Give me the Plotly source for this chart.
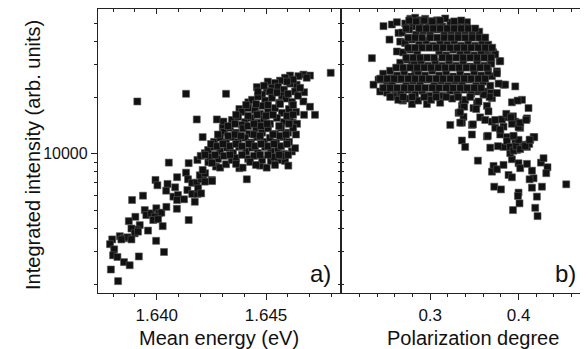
import plotly.graph_objects as go

# ---------------- data ----------------
energy_eV = [
    1.64055, 1.64146, 1.64186, 1.64201, 1.64220, 1.63994, 1.64003, 1.64049, 1.64093, 1.64134,
    1.64143, 1.64162, 1.64183, 1.64204, 1.64213, 1.64197, 1.64043, 1.64084, 1.64076, 1.64097,
    1.64093, 1.64125, 1.64140, 1.64162, 1.64186, 1.64189, 1.64174, 1.63937, 1.63887, 1.64092,
    1.64146, 1.63945, 1.63952, 1.63975, 1.63998, 1.64009, 1.64021, 1.63991, 1.63984, 1.64006,
    1.64044, 1.63902, 1.63872, 1.64027, 1.63922, 1.63907, 1.63884, 1.63899, 1.63914, 1.63960,
    1.63831, 1.63850, 1.63866, 1.63884, 1.63838, 1.63796, 1.63786, 1.63997, 1.64033, 1.63918,
    1.63805, 1.63800, 1.63820, 1.63850, 1.63876, 1.63790, 1.63823, 1.63911, 1.64134, 1.64317,
    1.64183, 1.64275, 1.64305, 1.64210, 1.64796, 1.64412, 1.64252, 1.64221, 1.64236, 1.64210,
    1.64220, 1.64253, 1.64271, 1.64290, 1.64317, 1.64343, 1.64378, 1.64393, 1.64473, 1.64503,
    1.64522, 1.64556, 1.64587, 1.64602, 1.64203, 1.64618, 1.64633, 1.64458, 1.64508, 1.64671,
    1.64701, 1.64674, 1.64671, 1.64701, 1.64724, 1.64674, 1.64622, 1.64637, 1.64419, 1.64378,
    1.64302, 1.64648, 1.64610, 1.64587, 1.64564, 1.64541, 1.64526, 1.64503, 1.64640, 1.64686,
    1.64482, 1.64518, 1.64555, 1.64582, 1.64610, 1.64633, 1.64573,
    1.64436, 1.64463, 1.64496, 1.64527, 1.64560, 1.64592, 1.64619, 1.64646,
    1.64390, 1.64418, 1.64450, 1.64482, 1.64509, 1.64541, 1.64573, 1.64605, 1.64637, 1.64473,
    1.64344, 1.64372, 1.64404, 1.64431, 1.64463, 1.64491, 1.64518, 1.64550, 1.64582, 1.64610, 1.64642, 1.64390,
    1.64308, 1.64335, 1.64363, 1.64395, 1.64422, 1.64454, 1.64482, 1.64509, 1.64541, 1.64569, 1.64601, 1.64624,
    1.64262, 1.64290, 1.64317, 1.64344, 1.64372, 1.64404, 1.64431, 1.64459, 1.64491, 1.64518, 1.64546, 1.64578, 1.64605,
    1.64235, 1.64262, 1.64290, 1.64322, 1.64349, 1.64377, 1.64409, 1.64436, 1.64463, 1.64496, 1.64523, 1.64555, 1.64582,
    1.64244, 1.64280, 1.64308, 1.64363, 1.64418, 1.64445, 1.64482, 1.64537, 1.64573,
    1.64409, 1.64454, 1.64509, 1.64564, 1.64624,
    1.64363, 1.64418, 1.64459, 1.64500, 1.64532, 1.64596, 1.64624,
    1.64326, 1.64358, 1.64418, 1.64445, 1.64477, 1.64505, 1.64560, 1.64605,
    1.64280, 1.64326, 1.64358, 1.64386, 1.64445, 1.64473, 1.64532, 1.64564, 1.64592,
    1.64248, 1.64276, 1.64303, 1.64335, 1.64363, 1.64390, 1.64422, 1.64450, 1.64477, 1.64509, 1.64537, 1.64569, 1.64596,
    1.64221, 1.64267, 1.64335, 1.64390, 1.64473, 1.64509, 1.64560, 1.64601,
    1.64253, 1.64363, 1.64427, 1.64454, 1.64541,
    1.64463, 1.64491, 1.64550, 1.64601, 1.64624, 1.64656, 1.64596,
]
intensity_a = [
    8980, 8920, 9280, 9760, 10090, 7250, 6790, 6900, 7500, 7930,
    7310, 7000, 7000, 7310, 7710, 7680, 6350, 6620, 5900, 6020,
    5660, 5710, 6400, 6100, 6100, 6540, 5540, 5970, 5660, 5080,
    4420, 5000, 4700, 4800, 5110, 4800, 4840, 4600, 4420, 4460,
    5200, 4600, 4360, 4100, 4150, 3930, 3980, 3750, 3830, 3880,
    3620, 3530, 3570, 3480, 3480, 3480, 3280, 3420, 2980, 2820,
    3080, 2860, 2800, 2630, 2530, 2400, 2080, 19100, 21000, 21000,
    15300, 15300, 14900, 12300, 27200, 7310, 7250, 7880, 9030, 8200,
    7100, 7150, 8550, 8440, 8800, 9280, 8380, 8440, 8650, 8440,
    9170, 9280, 9170, 8650, 6140, 10300, 10730, 22800, 24400, 26600,
    26300, 21400, 19100, 17900, 16200, 16200, 14700, 12700, 18900, 17400,
    13800, 26100, 26300, 25600, 24700, 24000, 22600, 21700, 23500, 25600,
    20800, 21600, 22900, 22100, 23800, 21600, 20500,
    19500, 20300, 19300, 20000, 18800, 19800, 19000, 20500,
    16800, 17600, 17200, 18100, 16800, 17600, 16600, 17400, 16800, 16400,
    15200, 15800, 14800, 15600, 14700, 15400, 14500, 15600, 14800, 15800, 14500, 14300,
    13100, 13800, 13000, 13700, 12800, 13800, 13000, 13700, 12800, 13800, 13000, 13800,
    11600, 12200, 11500, 12300, 11600, 12200, 11500, 12300, 11600, 12200, 11500, 12300, 11600,
    10500, 10900, 10300, 10800, 10100, 10900, 10300, 10800, 10100, 10900, 10300, 10600, 10000,
    9640, 9400, 9760, 9520, 9400, 9760, 9280, 9640, 9760,
    18300, 18500, 18300, 18500, 18300,
    16200, 16000, 16200, 16000, 16200, 16000, 16200,
    14100, 14500, 14100, 14500, 14100, 14500, 14100, 14500,
    12700, 12500, 12700, 12500, 12700, 12500, 12700, 12500, 12700,
    11300, 11000, 11300, 11000, 11300, 11000, 11300, 11000, 11300, 11000, 11300, 11000, 11300,
    9880, 9880, 9880, 9880, 9880, 9880, 9880, 9880,
    8950, 8840, 9060, 8730, 8730,
    21600, 23200, 21300, 21000, 25000, 22600, 24400,
]

polarization = [
    0.2471, 0.2566, 0.2623, 0.2539, 0.2641, 0.2623, 0.2340, 0.2774, 0.2830, 0.2887,
    0.2943, 0.3000, 0.3076, 0.3416, 0.2415, 0.2358, 0.2434, 0.2510, 0.2566, 0.2604,
    0.2691, 0.2793, 0.2963, 0.3612, 0.3642, 0.3710, 0.3785, 0.3755, 0.3699, 0.3830,
    0.3963, 0.3925, 0.4039, 0.4113, 0.4095, 0.4019, 0.3925, 0.3227, 0.3359, 0.3321,
    0.3377, 0.3359, 0.3472, 0.3490, 0.3529, 0.3642, 0.3699, 0.3642, 0.3604, 0.3529,
    0.3359, 0.3396, 0.3472, 0.3642, 0.3736, 0.3830, 0.3793, 0.3869, 0.3943, 0.3963,
    0.3830, 0.3982, 0.4057, 0.4133, 0.4170, 0.4095, 0.3812, 0.3887, 0.3937, 0.3963,
    0.3540, 0.3680, 0.3767, 0.3717, 0.3699, 0.3755, 0.3830, 0.3925, 0.3887, 0.3925,
    0.4000, 0.4019, 0.4095, 0.4152, 0.4170, 0.4125, 0.4254, 0.4283, 0.4328, 0.4314,
    0.4265, 0.4152, 0.4208, 0.4540, 0.3725, 0.3801, 0.4000, 0.3993, 0.4011, 0.3937,
    0.4189, 0.4215, 0.3906, 0.3982, 0.4121, 0.3793, 0.3869, 0.3906, 0.3943, 0.3974,
    0.4000, 0.4019, 0.4076, 0.4178, 0.4125, 0.3925, 0.4000, 0.3943, 0.3653, 0.3484,
    0.3340, 0.3849, 0.3774, 0.3755, 0.3793, 0.3717, 0.3680, 0.3989, 0.3623, 0.3687,
    0.3755, 0.3672, 0.3604, 0.3547, 0.3521, 0.3660, 0.3370, 0.3385, 0.3340, 0.3566,
    0.3623, 0.3699, 0.3736, 0.3861, 0.3914, 0.4019, 0.4087, 0.2660, 0.2717, 0.2566,
    0.2584, 0.2680, 0.2793, 0.2830, 0.2868,
    0.2717, 0.2796, 0.2887, 0.2977, 0.3057, 0.3136, 0.3227, 0.3317, 0.3396, 0.3170,
    0.2683, 0.2762, 0.2841, 0.2921, 0.3000, 0.3079, 0.3159, 0.3238, 0.3317, 0.3396, 0.3476, 0.3555,
    0.2717, 0.2796, 0.2875, 0.2955, 0.3034, 0.3113, 0.3193, 0.3272, 0.3351, 0.3430, 0.3510, 0.3589, 0.3657,
    0.2694, 0.2774, 0.2853, 0.3102, 0.3181, 0.3260, 0.3340, 0.3419, 0.3498, 0.3578, 0.3657, 0.3736,
    0.2660, 0.2740, 0.2819, 0.2898, 0.2977, 0.3057, 0.3136, 0.3215, 0.3294, 0.3374, 0.3453, 0.3532, 0.3612, 0.3691,
    0.2468, 0.2547, 0.2626, 0.2706, 0.2785, 0.2864, 0.2943, 0.3023, 0.3102, 0.3181, 0.3260, 0.3340, 0.3419, 0.3498, 0.3578, 0.3657,
    0.2479, 0.2570, 0.2649, 0.2728, 0.2807, 0.2887, 0.2966, 0.3045, 0.3125, 0.3204, 0.3283, 0.3362, 0.3442, 0.3521, 0.3600, 0.3680,
    0.2513, 0.2592, 0.2672, 0.2751, 0.2830, 0.2909, 0.2989, 0.3068, 0.3147, 0.3227, 0.3306, 0.3385, 0.3464, 0.3544,
    0.2638, 0.2728, 0.2864, 0.3011, 0.3113, 0.3249, 0.3396,
    0.2762, 0.2841, 0.2932, 0.3023, 0.3113, 0.3272, 0.3351,
    0.2728, 0.2875, 0.2955, 0.3034, 0.3113, 0.3193, 0.3272, 0.3351, 0.3430, 0.3510,
    0.2751, 0.2830, 0.2909, 0.3000, 0.3079, 0.3159, 0.3238, 0.3317, 0.3396, 0.3476, 0.3555, 0.3623,
    0.2751, 0.2830, 0.2909, 0.2989, 0.3068, 0.3147, 0.3227, 0.3306, 0.3385, 0.3464, 0.3544, 0.3623, 0.3702,
    0.2728, 0.2807, 0.2887, 0.2966, 0.3045, 0.3136, 0.3215, 0.3294, 0.3374, 0.3453, 0.3532, 0.3612, 0.3691,
    0.2615, 0.2694, 0.2774, 0.2853, 0.2932, 0.3011, 0.3091, 0.3170, 0.3249, 0.3328, 0.3408, 0.3487, 0.3566, 0.3646,
    0.2434, 0.2513, 0.2592, 0.2672, 0.2751, 0.2830, 0.2909, 0.2989, 0.3068, 0.3147, 0.3227, 0.3306, 0.3385, 0.3464, 0.3544, 0.3623,
    0.2468, 0.2547, 0.2626, 0.2706, 0.2785, 0.2864, 0.2943, 0.3023, 0.3102, 0.3181, 0.3260, 0.3340, 0.3419, 0.3498, 0.3578,
    0.2547, 0.2694, 0.2796, 0.2932, 0.3068, 0.3181, 0.3317, 0.3453,
]
intensity_b = [
    48400, 49400, 50800, 41000, 44500, 35400, 32600, 53000, 53700, 52000,
    53000, 51400, 52000, 50800, 25000, 23500, 21600, 24000, 22500, 20800,
    19300, 18500, 18500, 41900, 35100, 35100, 31400, 27700, 26100, 23500,
    23000, 18900, 19500, 17600, 15500, 13800, 15800, 14300, 18100, 16600,
    15800, 14700, 14300, 17600, 18700, 18100, 19900, 20800, 21200, 21600,
    11800, 10900, 12700, 12400, 13800, 14000, 12700, 12300, 12400, 11400,
    10900, 10700, 11200, 11900, 12300, 10900, 15300, 15700, 15900, 14900,
    9200, 10800, 11000, 8620, 8030, 8270, 8730, 9360, 7710, 7490,
    8910, 8380, 8840, 8130, 7400, 7310, 8980, 9480, 8480, 7880,
    6670, 6590, 5900, 6870, 6670, 6450, 6200, 5950, 5430, 5000,
    5140, 4640, 10090, 10500, 11300, 13500, 11700, 10900, 10400, 11000,
    11900, 10600, 11000, 12300, 11900, 14500, 13900, 12500, 12500, 14400,
    14700, 23500, 23800, 27000, 31400, 34600, 31400, 19300, 21600, 21200,
    21200, 20200, 20800, 19100, 17400, 16900, 19100, 17900, 16700, 15700,
    15200, 14900, 15200, 16400, 15700, 14700, 15200, 40000, 39300, 25500,
    20300, 19500, 30100, 28000, 30700,
    50000, 48200, 50000, 48800, 50000, 48200, 50600, 48800, 47600, 53200,
    44700, 46400, 43600, 45800, 44100, 46400, 43600, 45800, 43600, 45800, 43600, 45200,
    39500, 41000, 38500, 40500, 38000, 40000, 38500, 40500, 38000, 40000, 38000, 40000, 38500,
    35000, 36200, 34100, 35400, 33700, 36200, 34100, 35800, 33700, 35400, 33300, 34100,
    30800, 32000, 30100, 31600, 29700, 31200, 29700, 31600, 29700, 31200, 29400, 31200, 29700, 30400,
    26900, 27900, 26300, 27600, 26000, 27600, 26300, 27900, 26300, 27600, 26000, 27200, 26000, 27600, 26300, 27600,
    25000, 23800, 25000, 23200, 24700, 23500, 25000, 23200, 24700, 23200, 24700, 23500, 25000, 23200, 24400, 23200,
    21300, 22400, 21000, 22100, 20800, 21800, 20500, 21600, 20500, 21800, 20800, 22100, 21000, 22100,
    19500, 19800, 19300, 19500, 18800, 19800, 19500,
    51900, 51300, 51900, 51300, 51900, 51300, 51900,
    47000, 47000, 47000, 47000, 47000, 47000, 47000, 47000, 47000, 47000,
    42000, 42000, 42000, 42000, 42000, 42000, 42000, 42000, 42000, 42000, 42000, 42000,
    37100, 37100, 37100, 37100, 37100, 37100, 37100, 37100, 37100, 37100, 37100, 37100, 37100,
    32800, 32800, 32800, 32800, 32800, 32800, 32800, 32800, 32800, 32800, 32800, 32800, 32800,
    29000, 29000, 29000, 29000, 29000, 29000, 29000, 29000, 29000, 29000, 29000, 29000, 29000, 29000,
    25300, 25300, 25300, 25300, 25300, 25300, 25300, 25300, 25300, 25300, 25300, 25300, 25300, 25300, 25300, 25300,
    22600, 22600, 22600, 22600, 22600, 22600, 22600, 22600, 22600, 22600, 22600, 22600, 22600, 22600, 22600,
    20200, 20200, 20200, 20200, 20200, 20200, 20200, 20200,
]

energy_ticks = [1.640, 1.645]
energy_ticktext = ["1.640", "1.645"]
energy_minor = [1.638, 1.639, 1.641, 1.642, 1.643, 1.644, 1.646, 1.647, 1.648]
pol_ticks = [0.3, 0.4]
pol_ticktext = ["0.3", "0.4"]
pol_minor = [0.22, 0.24, 0.26, 0.28, 0.32, 0.34, 0.36, 0.38, 0.42, 0.44, 0.46]
int_ticks = [10000]
int_ticktext = ["10000"]
int_minor = [2000, 3000, 4000, 5000, 6000, 7000, 8000, 9000, 20000, 30000, 40000, 50000]

energy_range = [1.63731, 1.64843]
pol_range = [0.199, 0.4775]
int_range_log = [3.2543, 4.7767]

# ---------------- figure ----------------
FONT = "Liberation Sans, Arial, sans-serif"
AX = "#222222"
marker = dict(symbol="square", size=7, color="#111111", line=dict(color="#555555", width=0.6))

fig = go.Figure()
fig.add_trace(go.Scatter(x=energy_eV, y=intensity_a, mode="markers", marker=marker,
                         xaxis="x", yaxis="y", showlegend=False, hoverinfo="skip"))
fig.add_trace(go.Scatter(x=polarization, y=intensity_b, mode="markers", marker=marker,
                         xaxis="x2", yaxis="y2", showlegend=False, hoverinfo="skip"))
for xa, ya in [("x3", "y"), ("x", "y3"), ("x4", "y2"), ("x2", "y4")]:
    fig.add_trace(go.Scatter(x=[None], y=[None], xaxis=xa, yaxis=ya, showlegend=False, hoverinfo="skip"))

D = 0.4969
common = dict(showline=True, linecolor=AX, linewidth=1.3, showgrid=False, zeroline=False, automargin=False,
              tickcolor=AX, tickwidth=1, tickfont=dict(family=FONT, size=16, color="#111"))

def xax(rng, tv, tt, mv, domain, side, ticks, show, overlay=None, anchor=None):
    d = dict(common, range=rng, tickvals=tv, ticktext=tt, ticks=ticks, ticklen=6 if ticks == "outside" else 5,
             side=side, showticklabels=show, tickfont=dict(family=FONT, size=17, color="#111"),
             minor=dict(tickvals=mv, ticks=ticks, ticklen=3, tickcolor=AX, tickwidth=1))
    if overlay:
        d["overlaying"] = overlay
    else:
        d["domain"] = domain
    if anchor:
        d["anchor"] = anchor
    return d

def yax(side, ticks, show, anchor, overlay=None, tl=6):
    d = dict(common, type="log", range=int_range_log, tickvals=int_ticks, ticktext=int_ticktext,
             ticks=ticks, ticklen=tl, side=side, showticklabels=show, anchor=anchor,
             minor=dict(tickvals=int_minor, ticks=ticks, ticklen=3, tickcolor=AX, tickwidth=1))
    if overlay:
        d["overlaying"] = overlay
    return d

tfont = dict(family=FONT, size=20, color="#111")
# the page body adds an 8 px offset, so the figure is 8 px smaller and margins are shifted
fig.update_layout(
    width=580, height=341,
    margin=dict(l=90, r=1, t=1, b=56),
    paper_bgcolor="white", plot_bgcolor="white",
    xaxis=xax(energy_range, energy_ticks, energy_ticktext, energy_minor, [0, D], "bottom", "outside", True, anchor="y"),
    xaxis2=xax(pol_range, pol_ticks, pol_ticktext, pol_minor, [D, 1], "bottom", "outside", True, anchor="y2"),
    xaxis3=xax(energy_range, energy_ticks, energy_ticktext, energy_minor, None, "top", "inside", False,
               overlay="x", anchor="y"),
    xaxis4=xax(pol_range, pol_ticks, pol_ticktext, pol_minor, None, "top", "inside", False,
               overlay="x2", anchor="y2"),
    yaxis=yax("left", "outside", True, "x"),
    yaxis2=yax("left", "inside", False, "x2", tl=5),
    yaxis3=yax("right", "inside", False, "x", overlay="y", tl=4),
    yaxis4=yax("right", "inside", False, "x2", overlay="y2", tl=5),
    annotations=[
        dict(text="Mean energy (eV)", xref="paper", yref="paper", x=(219 - 98) / 489, y=-0.158,
             xanchor="center", yanchor="middle", showarrow=False, font=tfont),
        dict(text="Polarization degree", xref="paper", yref="paper", x=(473 - 98) / 489, y=-0.158,
             xanchor="center", yanchor="middle", showarrow=False, font=tfont),
        dict(text="Integrated intensity (arb. units)", xref="paper", yref="paper", x=(33 - 98) / 489, y=0.486,
             xanchor="center", yanchor="middle", textangle=-90, showarrow=False, font=tfont),
        dict(text="a)", xref="paper", yref="paper", x=0.481, y=0.07, xanchor="right", yanchor="middle",
             showarrow=False, font=dict(family=FONT, size=24, color="#111")),
        dict(text="b)", xref="paper", yref="paper", x=0.982, y=0.07, xanchor="right", yanchor="middle",
             showarrow=False, font=dict(family=FONT, size=24, color="#111")),
    ],
)

fig.write_html("out.html")
